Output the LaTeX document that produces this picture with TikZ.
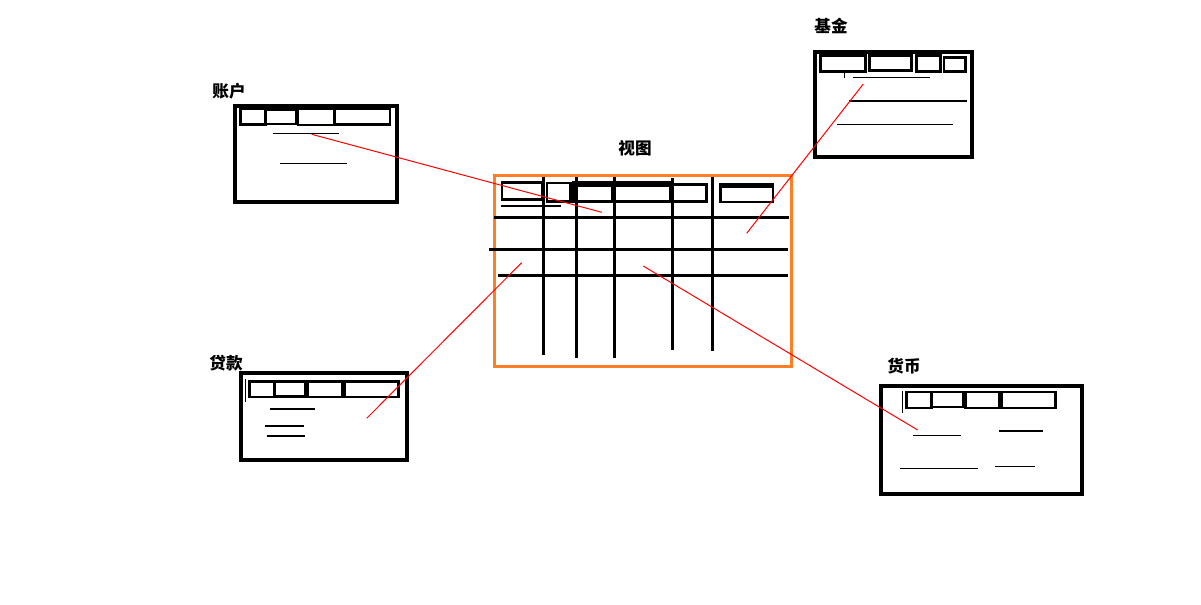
\documentclass[tikz,border=0pt]{standalone}
\usepackage{fontspec}
\newfontfamily\cjk{Noto Sans CJK SC}
\definecolor{paintorange}{RGB}{255,127,39}

\begin{document}
\begin{tikzpicture}[
      x=0.5pt, y=-0.5pt,
      frame/.style={draw, line width=2pt},
      cell/.style={draw, line width=1.3pt},
      rule/.style={line width=0.55pt},
      gridline/.style={line width=1.5pt},
      viewbox/.style={draw=paintorange, line width=1.5pt},
      link/.style={draw=red, line width=0.5pt},
      title/.style={font=\cjk\bfseries\fontsize{8.3pt}{10pt}\selectfont, inner sep=0pt}
    ]
    \useasboundingbox (0,0) rectangle (1201,605);

    % ---- labels ----
    \node[title] (acctlbl) at (229,91)  {账户};
    \node[title] (fundlbl) at (831,26)  {基金};
    \node[title] (viewlbl) at (635,148) {视图};
    \node[title] (loanlbl) at (226,363) {贷款};
    \node[title] (curlbl)  at (904,366) {货币};

    % ---- 账户 window ----
    \draw[frame] (234.5,105.5) rectangle (397,202);
    \draw[cell] (240.5,109) rectangle (265.5,124.5);
    \draw[cell] (265.5,109.5) rectangle (296,124);
    \draw[cell] (298,108.5) rectangle (334.5,125);
    \draw[cell] (335,109) rectangle (390,124.5);
    \draw[rule] (272.7,133.3) -- (338.7,133.3);
    \draw[rule] (280,163.3) -- (346.7,163.3);

    % ---- 基金 window ----
    \draw[frame] (814.5,51.5) rectangle (972,157);
    \draw[cell] (820.5,55.5) rectangle (865.5,71.5);
    \draw[cell] (869.5,55.5) rectangle (911.5,70.5);
    \draw[cell] (916.5,55.5) rectangle (940.5,71.5);
    \draw[cell] (944,57.5) rectangle (965.5,71.5);
    \draw[rule] (844.3,73) -- (844.3,77.7);
    \draw[rule] (852.7,77.7) -- (930,77.7);
    \draw[rule] (849.3,101) -- (966.7,101);
    \draw[rule] (837,124.3) -- (952.7,124.3);

    % ---- 视图 table ----
    \draw[viewbox] (494,175) rectangle (791.7,366);
    \draw[cell] (502,182.5) rectangle (542,199.5);
    \draw[cell] (547,183) rectangle (570.5,201.5);
    \draw[cell] (573.5,182.5) rectangle (612,201.5);
    \draw[cell] (614.5,182.5) rectangle (670.5,201.5);
    \draw[cell] (673,184.5) rectangle (706.5,201.5);
    \draw[cell] (720.5,184.5) rectangle (773,202);
    \fill (572.3,181) rectangle (671.7,187);
    \fill (719.3,183.3) rectangle (774.3,187.5);
    \draw[rule] (500.7,206) -- (561,206);
    \draw[gridline] (494,217.3) -- (789,217.3);
    \draw[gridline] (489,249.3) -- (787.7,249.3);
    \draw[gridline] (497.7,275.3) -- (787.7,275.3);
    \draw[gridline] (543.3,176.7) -- (543.3,355);
    \draw[gridline] (576,177.3) -- (576,357.7);
    \draw[gridline] (614.3,177.3) -- (614.3,357.7);
    \draw[gridline] (672.3,178.3) -- (672.3,350);
    \draw[gridline] (712.7,177.3) -- (712.7,351);

    % ---- 贷款 window ----
    \draw[frame] (240.5,373.3) rectangle (407,460);
    \draw[cell] (249.5,381.5) rectangle (274,397);
    \draw[cell] (274.5,381.5) rectangle (305,396.5);
    \draw[cell] (307.5,381.5) rectangle (342,397);
    \draw[cell] (344.5,381.5) rectangle (398.5,397);
    \draw[rule] (245.7,379.3) -- (245.7,402.3);
    \draw[rule] (270,409) -- (315,409);
    \draw[rule] (265,426) -- (304,426);
    \draw[rule] (266.7,436) -- (305,436);

    % ---- 货币 window ----
    \draw[frame] (880.5,385.5) rectangle (1081.5,494);
    \draw[cell] (906.5,392) rectangle (931.5,408);
    \draw[cell] (932,392) rectangle (963,407);
    \draw[cell] (965.5,392) rectangle (999,408);
    \draw[cell] (1001.5,392) rectangle (1055.5,408);
    \draw[rule] (902.3,390.7) -- (902.3,413.3);
    \draw[rule] (913.3,435.3) -- (960.7,435.3);
    \draw[rule] (999.3,429.5) -- (999.3,431) -- (1042.7,431);
    \draw[rule] (900,468.3) -- (977.7,468.3);
    \draw[rule] (995,466.3) -- (1035,466.3);

    % ---- red links from each window into the table ----
    \coordinate (acctend) at (311.7,134.3);
    \coordinate (acctin)  at (601.7,212.3);
    \coordinate (fundend) at (863.3,84);
    \coordinate (fundin)  at (746.7,233.3);
    \coordinate (loanend) at (366.7,418.3);
    \coordinate (loanin)  at (521.7,262.7);
    \coordinate (curend)  at (917.7,430);
    \coordinate (curin)   at (643.3,266);
    \draw[link] (acctend) -- (acctin);
    \draw[link] (fundend) -- (fundin);
    \draw[link] (loanin)  -- (loanend);
    \draw[link] (curin)   -- (curend);
\end{tikzpicture}
\end{document}
